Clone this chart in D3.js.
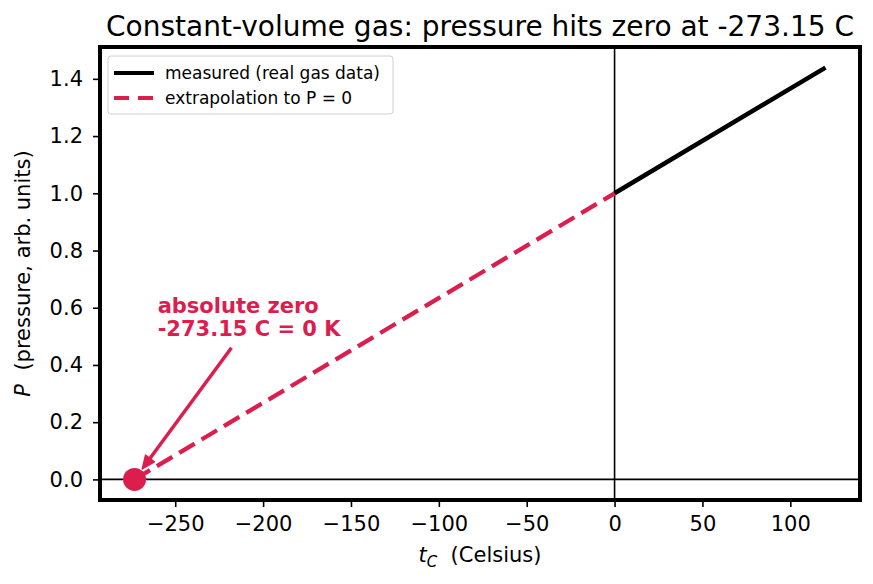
<!DOCTYPE html>
<html>
<head>
<meta charset="utf-8">
<script src="https://cdn.jsdelivr.net/npm/d3@7"></script>
<style>
  body { margin: 0; background: #fff; }
  svg { display: block; font-family: "DejaVu Sans", sans-serif; }
</style>
</head>
<body>
<div id="chart"></div>
<script>
// data
var absZero = -273.15;
var measuredT = [0, 120];
var measuredP = [1.0, 1.0 + 120 / 273.15];
var extrapT = [absZero, 0];
var extrapP = [0, 1.0];
var xTicks = [-250, -200, -150, -100, -50, 0, 50, 100];
var yTicks = [0.0, 0.2, 0.4, 0.6, 0.8, 1.0, 1.2, 1.4];
var legendLabels = ["measured (real gas data)", "extrapolation to P = 0"];
var annoText = ["absolute zero", "-273.15 C = 0 K"];
var annoTextAt = [-260, 0.5];
var annoTailAt = [-218, 0.46];

var red = "#dc1e4e";

var W = 873, H = 584;
var margin = {top: 47, right: 13, bottom: 84, left: 100},
    width = W - margin.left - margin.right,
    height = H - margin.top - margin.bottom;

var svg = d3.select("#chart").append("svg")
    .attr("width", W)
    .attr("height", H);

var g = svg.append("g")
    .attr("transform", "translate(" + margin.left + "," + margin.top + ")");

// 5% padding like matplotlib
var xSpan = 120 - absZero;
var x = d3.scaleLinear()
    .domain([absZero - 0.05 * xSpan, 120 + 0.05 * xSpan])
    .range([0, width]);
var ySpan = measuredP[1];
var y = d3.scaleLinear()
    .domain([-0.05 * ySpan, ySpan * 1.05])
    .range([height, 0]);

// zero lines
g.append("line")
    .attr("x1", 0).attr("x2", width)
    .attr("y1", y(0)).attr("y2", y(0))
    .attr("stroke", "#000").attr("stroke-width", 1.6);
g.append("line")
    .attr("x1", x(0)).attr("x2", x(0))
    .attr("y1", 0).attr("y2", height)
    .attr("stroke", "#000").attr("stroke-width", 1.6);

var line = d3.line()
    .x(function(d) { return x(d[0]); })
    .y(function(d) { return y(d[1]); });

// measured line
g.append("path")
    .datum(measuredT.map(function(t, i) { return [t, measuredP[i]]; }))
    .attr("d", line)
    .attr("fill", "none")
    .attr("stroke", "#000")
    .attr("stroke-width", 4.5);

// extrapolation
g.append("path")
    .datum(extrapT.map(function(t, i) { return [t, extrapP[i]]; }))
    .attr("d", line)
    .attr("fill", "none")
    .attr("stroke", red)
    .attr("stroke-width", 4.3)
    .attr("stroke-dasharray", "18,8");

// absolute zero marker
g.append("circle")
    .attr("cx", x(absZero))
    .attr("cy", y(0))
    .attr("r", 11.5)
    .attr("fill", red);

// annotation arrow
var cx0 = x(absZero), cy0 = y(0);
var tx = x(annoTailAt[0]), ty = y(annoTailAt[1]);
var dx = cx0 - tx, dy = cy0 - ty, len = Math.sqrt(dx * dx + dy * dy);
var ux = dx / len, uy = dy / len;
var tipX = cx0 - ux * 13, tipY = cy0 - uy * 13;
var headLen = 13, headW = 5.5;
var bx = tipX - ux * headLen, by = tipY - uy * headLen;
g.append("line")
    .attr("x1", tx).attr("y1", ty)
    .attr("x2", bx + ux * 2).attr("y2", by + uy * 2)
    .attr("stroke", red)
    .attr("stroke-width", 3.5);
g.append("path")
    .attr("d", "M" + tipX + "," + tipY +
        "L" + (bx - uy * headW) + "," + (by + ux * headW) +
        "L" + (bx + uy * headW) + "," + (by - ux * headW) + "Z")
    .attr("fill", red)
    .attr("stroke", red)
    .attr("stroke-width", 1.5)
    .attr("stroke-linejoin", "round");

var anno = g.append("text")
    .attr("x", x(annoTextAt[0]))
    .attr("y", y(annoTextAt[1]))
    .attr("fill", red)
    .style("font-size", "21px")
    .style("font-weight", "bold");
anno.append("tspan").attr("x", x(annoTextAt[0])).attr("dy", "-23").text(annoText[0]);
anno.append("tspan").attr("x", x(annoTextAt[0])).attr("dy", "23").text(annoText[1]);

// axes
var xAxis = g.append("g")
    .attr("transform", "translate(0," + height + ")")
    .call(d3.axisBottom(x).tickValues(xTicks).tickSize(7).tickPadding(9)
        .tickFormat(function(d) { return d < 0 ? "\u2212" + Math.abs(d) : d; }));
var yAxis = g.append("g")
    .call(d3.axisLeft(y).tickValues(yTicks).tickSize(7).tickPadding(10)
        .tickFormat(d3.format(".1f")));
[xAxis, yAxis].forEach(function(a) {
    a.select(".domain").remove();
    a.selectAll("line").attr("stroke", "#000").attr("stroke-width", 1.6);
    a.selectAll("text").attr("fill", "#000")
        .style("font-size", "21px")
        .style("font-family", "DejaVu Sans");
});

// frame
g.append("rect")
    .attr("x", 0).attr("y", 0)
    .attr("width", width).attr("height", height)
    .attr("fill", "none")
    .attr("stroke", "#000")
    .attr("stroke-width", 4);

// legend
var lg = g.append("g").attr("transform", "translate(8,9)");
lg.append("rect")
    .attr("width", 285).attr("height", 58)
    .attr("rx", 3)
    .attr("fill", "#fff").attr("fill-opacity", 0.8)
    .attr("stroke", "#d0d0d0").attr("stroke-width", 1);
var legendStyles = [{color: "#000", dash: null}, {color: red, dash: "15,9"}];
legendLabels.forEach(function(lab, i) {
    var yy = 17 + i * 25;
    lg.append("line")
        .attr("x1", 6).attr("x2", 46)
        .attr("y1", yy).attr("y2", yy)
        .attr("stroke", legendStyles[i].color)
        .attr("stroke-width", 4)
        .attr("stroke-dasharray", legendStyles[i].dash);
    lg.append("text")
        .attr("x", 57).attr("y", yy + 6)
        .style("font-size", "17px")
        .text(lab);
});

// title
svg.append("text")
    .attr("x", margin.left + width / 2)
    .attr("y", 36)
    .attr("text-anchor", "middle")
    .style("font-size", "28px")
    .text("Constant-volume gas: pressure hits zero at -273.15 C");

// x label
var xl = svg.append("text")
    .attr("x", margin.left + width / 2)
    .attr("y", 562)
    .attr("text-anchor", "middle")
    .style("font-size", "21px");
xl.append("tspan").style("font-style", "italic").text("t");
xl.append("tspan").style("font-style", "italic").style("font-size", "15px").attr("dy", 5).text("C");
xl.append("tspan").attr("dy", -5).text("\u00a0\u00a0(Celsius)");

// y label
var yl = svg.append("text")
    .attr("transform", "translate(30," + (margin.top + height / 2) + ") rotate(-90)")
    .attr("text-anchor", "middle")
    .style("font-size", "21px");
yl.append("tspan").style("font-style", "italic").text("P");
yl.append("tspan").text("\u00a0\u00a0(pressure, arb. units)");
</script>
</body>
</html>
